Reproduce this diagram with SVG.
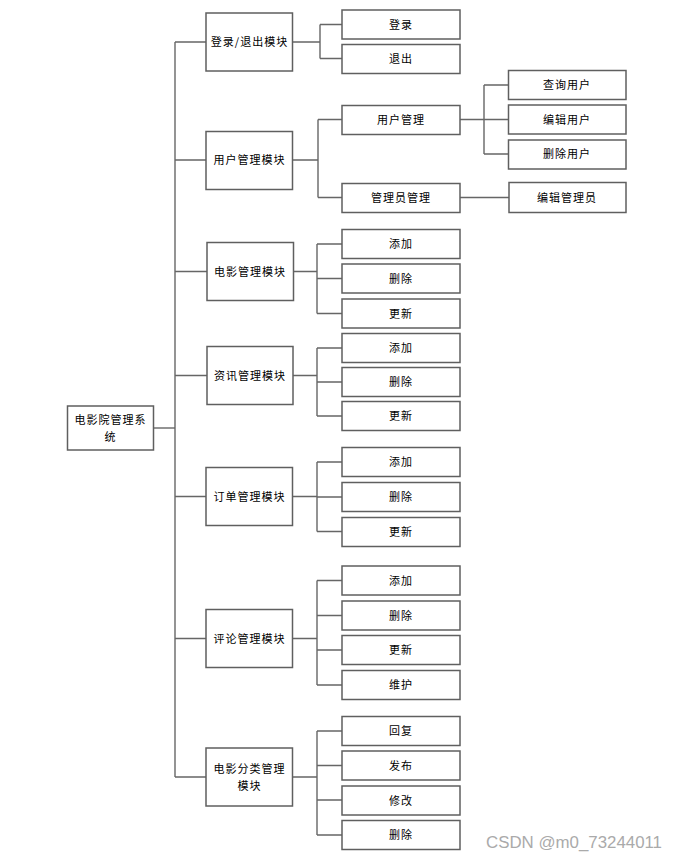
<svg xmlns="http://www.w3.org/2000/svg" width="677" height="861" viewBox="0 0 677 861">
<style>
rect.b{fill:#fff;stroke:#5f5f5f;stroke-width:1.5}
text{font-family:"Noto Sans CJK SC","Liberation Sans",sans-serif;font-size:11px;letter-spacing:1px;fill:#000;text-anchor:middle}
.c path{fill:none;stroke:#666;stroke-width:1.4}
text.wm{font-family:"Liberation Sans",Arial,sans-serif;font-size:16px;letter-spacing:0;fill:#aaa;text-anchor:start}
</style>
<rect width="677" height="861" fill="#fff"/>
<g class="c" id="connectors">
<path d="M175 42V777"/>
<path d="M153 428H175"/>
<path d="M175 42H206M293 42H320M320 24.5V58.5M320 24.5H342M320 58.5H342"/>
<path d="M175 160H206M293 160H318M318 119.5V197.5M318 119.5H342M318 197.5H342"/>
<path d="M460 119.5H484M484 85V154M484 85H508M484 119.5H508M484 154H508"/>
<path d="M460 197.5H509"/>
<path d="M175 271.5H207M293 271.5H317M317 244V313.5M317 244H342M317 278.5H342M317 313.5H342"/>
<path d="M175 375.5H207M293 375.5H317M317 348V416M317 348H342M317 382H342M317 416H342"/>
<path d="M175 496.5H206M292 496.5H317M317 462V531.5M317 462H342M317 497H342M317 531.5H342"/>
<path d="M175 638.5H206M292 638.5H317M317 580.5V685M317 580.5H342M317 615.5H342M317 650H342M317 685H342"/>
<path d="M175 777H206M292 777H317M317 731V835M317 731H342M317 765.5H342M317 800H342M317 835H342"/>
</g>
<g id="root"><rect class="b" x="67.5" y="406" width="86" height="44"/><text x="110.5" y="424">电影院管理系</text><text x="110.5" y="441">统</text></g>
<g id="m1"><rect class="b" x="206" y="13" width="86.5" height="58"/><text x="249.5" y="46">登录/退出模块</text></g>
<g id="m1a"><rect class="b" x="342" y="10" width="118" height="29"/><text x="401" y="28.5">登录</text></g>
<g id="m1b"><rect class="b" x="342" y="44.5" width="118" height="29"/><text x="401" y="62.5">退出</text></g>
<g id="m2"><rect class="b" x="206" y="131.5" width="86.5" height="58"/><text x="249.5" y="164">用户管理模块</text></g>
<g id="m2a"><rect class="b" x="342" y="105.5" width="118" height="29"/><text x="401" y="123.5">用户管理</text></g>
<g id="m2b"><rect class="b" x="342" y="183.5" width="118" height="29"/><text x="401" y="201.5">管理员管理</text></g>
<g id="m2a1"><rect class="b" x="508.5" y="70.5" width="117.5" height="29"/><text x="567" y="89">查询用户</text></g>
<g id="m2a2"><rect class="b" x="508.5" y="105" width="117.5" height="29"/><text x="567" y="123.5">编辑用户</text></g>
<g id="m2a3"><rect class="b" x="508.5" y="140" width="117.5" height="29"/><text x="567" y="158">删除用户</text></g>
<g id="m2b1"><rect class="b" x="509" y="182.5" width="117" height="30"/><text x="567" y="201.5">编辑管理员</text></g>
<g id="m3"><rect class="b" x="207" y="242.5" width="86.5" height="58"/><text x="250" y="275.5">电影管理模块</text></g>
<g id="m3a"><rect class="b" x="342" y="229.5" width="118" height="29"/><text x="401" y="248">添加</text></g>
<g id="m3b"><rect class="b" x="342" y="264" width="118" height="29"/><text x="401" y="282.5">删除</text></g>
<g id="m3c"><rect class="b" x="342" y="299" width="118" height="29"/><text x="401" y="317.5">更新</text></g>
<g id="m4"><rect class="b" x="207" y="346.5" width="86" height="58"/><text x="250" y="379.5">资讯管理模块</text></g>
<g id="m4a"><rect class="b" x="342" y="333.5" width="118" height="29"/><text x="401" y="352">添加</text></g>
<g id="m4b"><rect class="b" x="342" y="367.5" width="118" height="29"/><text x="401" y="386">删除</text></g>
<g id="m4c"><rect class="b" x="342" y="401.5" width="118" height="29"/><text x="401" y="420">更新</text></g>
<g id="m5"><rect class="b" x="206" y="467.5" width="86.5" height="58"/><text x="249.5" y="500.5">订单管理模块</text></g>
<g id="m5a"><rect class="b" x="342" y="447.5" width="118" height="29"/><text x="401" y="466">添加</text></g>
<g id="m5b"><rect class="b" x="342" y="482.5" width="118" height="29"/><text x="401" y="501">删除</text></g>
<g id="m5c"><rect class="b" x="342" y="517.5" width="118" height="29"/><text x="401" y="536">更新</text></g>
<g id="m6"><rect class="b" x="206" y="609.5" width="86.5" height="58"/><text x="249.5" y="642.5">评论管理模块</text></g>
<g id="m6a"><rect class="b" x="342" y="566" width="118" height="29"/><text x="401" y="584.5">添加</text></g>
<g id="m6b"><rect class="b" x="342" y="601" width="118" height="29"/><text x="401" y="619.5">删除</text></g>
<g id="m6c"><rect class="b" x="342" y="635.5" width="118" height="29"/><text x="401" y="654">更新</text></g>
<g id="m6d"><rect class="b" x="342" y="670.5" width="118" height="29"/><text x="401" y="689">维护</text></g>
<g id="m7"><rect class="b" x="206" y="748" width="86.5" height="58"/><text x="249.5" y="773">电影分类管理</text><text x="249.5" y="790">模块</text></g>
<g id="m7a"><rect class="b" x="342" y="716.5" width="118" height="29"/><text x="401" y="735">回复</text></g>
<g id="m7b"><rect class="b" x="342" y="751" width="118" height="29"/><text x="401" y="769.5">发布</text></g>
<g id="m7c"><rect class="b" x="342" y="786" width="118" height="29"/><text x="401" y="804.5">修改</text></g>
<g id="m7d"><rect class="b" x="342" y="820.5" width="118" height="29"/><text x="401" y="839">删除</text></g>
<text class="wm" x="486" y="848" textLength="176" lengthAdjust="spacingAndGlyphs">CSDN @m0_73244011</text>
</svg>
